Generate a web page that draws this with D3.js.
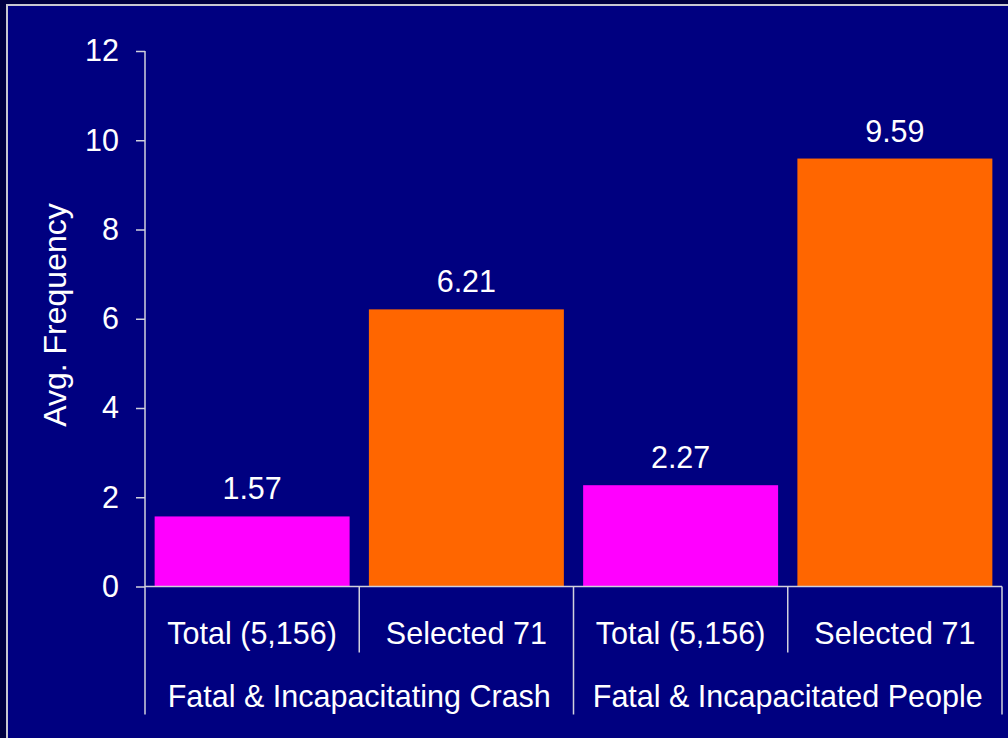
<!DOCTYPE html>
<html>
<head>
<meta charset="utf-8">
<script src="https://cdn.jsdelivr.net/npm/d3@7"></script>
<style>
  body { margin: 0; background: #000040; }
  svg { display: block; }
  text { font-family: "Liberation Sans", Arial, sans-serif; fill: #ffffff; }
</style>
</head>
<body>
<div id="chart"></div>
<script>
// data
const groups = ["Fatal & Incapacitating Crash", "Fatal & Incapacitated People"];
const subLabels = ["Total (5,156)", "Selected 71", "Total (5,156)", "Selected 71"];
const values = [1.57, 6.21, 2.27, 9.59];
const barColors = ["#ff00ff", "#ff6600", "#ff00ff", "#ff6600"];
const yTicks = [0, 2, 4, 6, 8, 10, 12];
const yTitle = "Avg. Frequency";

const W = 1008, H = 738;
const axisColor = "#d0d0dc";
const fontSize = "30.5px";

const svg = d3.select("#chart").append("svg")
    .attr("width", W)
    .attr("height", H);

// panel
svg.append("rect")
    .attr("x", 7).attr("y", 5)
    .attr("width", W + 10).attr("height", H + 10)
    .attr("fill", "#000080")
    .attr("stroke", "#c8c8d0")
    .attr("stroke-width", 2);

const x = d3.scaleBand()
    .domain(d3.range(values.length))
    .range([145, 1002])
    .paddingInner(0.09)
    .paddingOuter(0.045);

const y = d3.scaleLinear()
    .domain([0, 12])
    .range([586.5, 51]);

// bars
svg.selectAll("rect.bar")
    .data(values)
    .join("rect")
    .attr("class", "bar")
    .attr("x", (d, i) => x(i))
    .attr("y", d => y(d))
    .attr("width", x.bandwidth())
    .attr("height", d => y(0) - y(d))
    .attr("fill", (d, i) => barColors[i]);

// value labels
svg.selectAll("text.val")
    .data(values)
    .join("text")
    .attr("class", "val")
    .attr("x", (d, i) => x(i) + x.bandwidth() / 2)
    .attr("y", d => y(d) - 28)
    .attr("text-anchor", "middle")
    .attr("dominant-baseline", "central")
    .style("font-size", fontSize)
    .text(d => d.toFixed(2));

// y axis
const yAxis = svg.append("g")
    .attr("transform", "translate(145,0)")
    .call(d3.axisLeft(y).tickValues(yTicks).tickSize(9).tickPadding(17).tickSizeOuter(0));
yAxis.select(".domain").remove();
yAxis.selectAll("line").attr("stroke", axisColor).attr("stroke-width", 1.5);
yAxis.selectAll("text")
    .style("font-size", fontSize)
    .attr("fill", "#ffffff")
    .style("font-family", "Liberation Sans, Arial, sans-serif");

const y0 = y(0);
const step = x.step();
const x0 = x.range()[0];

// axis lines
svg.append("line")
    .attr("x1", x0).attr("x2", x0)
    .attr("y1", y(12)).attr("y2", y0 + 128)
    .attr("stroke", axisColor).attr("stroke-width", 1.5);
svg.append("line")
    .attr("x1", x0).attr("x2", x.range()[1])
    .attr("y1", y0).attr("y2", y0)
    .attr("stroke", axisColor).attr("stroke-width", 1.5);

// category separators
svg.selectAll("line.sep")
    .data(d3.range(1, values.length + 1))
    .join("line")
    .attr("class", "sep")
    .attr("x1", i => x0 + i * step).attr("x2", i => x0 + i * step)
    .attr("y1", y0)
    .attr("y2", i => (i % 2 === 0) ? y0 + 128 : y0 + 66)
    .attr("stroke", axisColor).attr("stroke-width", 1.5);

// sub labels
svg.selectAll("text.sub")
    .data(subLabels)
    .join("text")
    .attr("class", "sub")
    .attr("x", (d, i) => x0 + (i + 0.5) * step)
    .attr("y", y0 + 46)
    .attr("text-anchor", "middle")
    .attr("dominant-baseline", "central")
    .style("font-size", fontSize)
    .text(d => d);

// group labels
svg.selectAll("text.grp")
    .data(groups)
    .join("text")
    .attr("class", "grp")
    .attr("x", (d, i) => x0 + (i * 2 + 1) * step)
    .attr("y", y0 + 109)
    .attr("text-anchor", "middle")
    .attr("dominant-baseline", "central")
    .style("font-size", fontSize)
    .text(d => d);

// y title
svg.append("text")
    .attr("transform", "translate(55,315) rotate(-90)")
    .attr("text-anchor", "middle")
    .attr("dominant-baseline", "central")
    .style("font-size", "32px")
    .text(yTitle);
</script>
</body>
</html>
